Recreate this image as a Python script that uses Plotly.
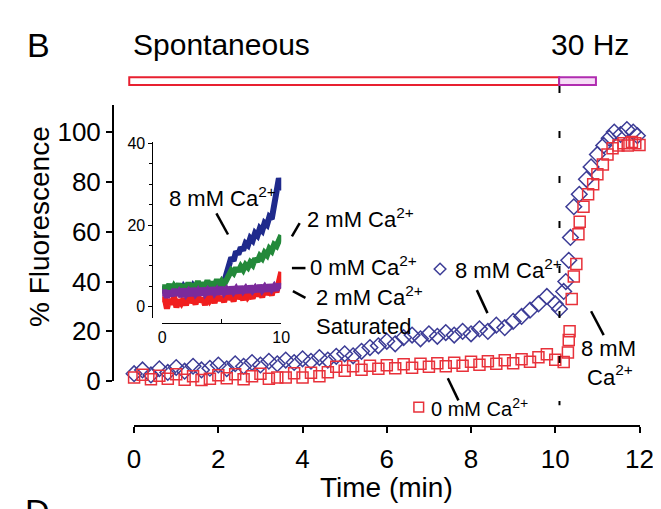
import plotly.graph_objects as go

# ---------------- data ----------------
# main panel: 0 mM Ca2+ (red squares)
red_t = [0.0, 0.2, 0.4, 0.6, 0.8, 1.0, 1.2, 1.4, 1.6, 1.8, 2.0, 2.2, 2.4, 2.6, 2.8,
         3.0, 3.2, 3.4, 3.6, 3.8, 4.0, 4.2, 4.4, 4.6, 4.8, 5.0, 5.2, 5.4, 5.6, 5.8,
         6.0, 6.2, 6.4, 6.6, 6.8, 7.0, 7.2, 7.4, 7.6, 7.8, 8.0, 8.2, 8.4, 8.6, 8.8,
         9.0, 9.2, 9.4, 9.6, 9.8, 10.0,
         10.2, 10.3, 10.32, 10.34, 10.39, 10.44, 10.5, 10.55, 10.58, 10.67, 10.78,
         10.9, 11.0, 11.13, 11.24, 11.36, 11.5, 11.62, 11.72, 11.82, 11.9, 12.0, 12.18]
red_v = [1.5, 2.6, 0.8, 2.2, 1.0, 2.8, 0.6, 2.0, 0.5, 1.0, 2.4, 1.2, 2.8, 0.8, 2.0,
         3.0, 1.0, 1.5, 1.5, 3.2, 1.5, 3.4, 2.0, 3.6, 5.8, 4.2, 6.0, 4.6, 6.2, 5.0,
         6.4, 5.2, 6.8, 5.4, 7.0, 5.8, 7.2, 6.0, 7.4, 6.2, 7.8, 6.6, 8.0, 7.0, 8.4,
         7.2, 8.8, 7.8, 9.6, 10.8, 8.6,
         7.7, 11.5, 16.5, 20.0, 33.0, 42.0, 47.0, 59.0, 64.0, 70.0, 75.0,
         79.0, 83.0, 87.0, 91.0, 93.5, 94.6, 95.5, 94.6, 96.0, 95.5, 94.8, 93.5]

# main panel: 8 mM Ca2+ (blue diamonds)
blue_t = [0.0, 0.2, 0.4, 0.6, 0.8, 1.0, 1.2, 1.4, 1.6, 1.8, 2.0, 2.2, 2.4, 2.6, 2.8,
          3.0, 3.2, 3.4, 3.6, 3.8, 4.0, 4.2, 4.4, 4.6, 4.8, 5.0, 5.2, 5.4, 5.6, 5.8,
          6.0, 6.2, 6.4, 6.6, 6.8, 7.0, 7.2, 7.4, 7.6, 7.8, 8.0, 8.2, 8.4, 8.6, 8.8,
          9.0, 9.2, 9.4, 9.6, 9.8, 10.0,
          10.1, 10.2, 10.25, 10.32, 10.36, 10.44, 10.57, 10.74, 10.85, 11.0, 11.15,
          11.28, 11.4, 11.55, 11.7, 11.85, 11.95]
blue_v = [3.0, 4.5, 2.5, 5.0, 3.5, 5.5, 4.0, 6.0, 4.5, 5.2, 6.5, 5.0, 7.0, 6.0, 7.5,
          6.5, 8.0, 7.0, 8.5, 7.5, 9.0, 8.0, 9.5, 8.5, 10.0, 11.0, 10.2, 12.0, 13.5, 14.2,
          16.0, 15.0, 17.5, 18.5, 17.0, 19.0, 18.0, 19.5, 18.5, 20.0, 19.0, 21.0, 20.0, 22.5, 21.5,
          24.0, 26.0, 28.5, 31.0, 34.0, 31.0,
          29.0, 36.0, 40.0, 48.5, 57.7, 70.0, 75.0, 81.0, 86.0, 91.0, 94.6,
          97.5, 100.0, 99.0, 101.0, 100.0, 98.5]

# inset traces
inset_t = [0.0, 0.2, 0.4, 0.6, 0.8, 1.0, 1.2, 1.4, 1.6, 1.8, 2.0, 2.2, 2.4, 2.6, 2.8,
           3.0, 3.2, 3.4, 3.6, 3.8, 4.0, 4.2, 4.4, 4.6, 4.8, 5.0, 5.2, 5.4, 5.6, 5.8,
           6.0, 6.2, 6.4, 6.6, 6.8, 7.0, 7.2, 7.4, 7.6, 7.8, 8.0, 8.2, 8.4, 8.6, 8.8,
           9.0, 9.2, 9.4, 9.6, 9.8, 10.0]
inset_blue = [3.2, 4.8, 3.6, 5.0, 3.5, 4.6, 3.9, 5.2, 3.7, 4.9, 4.1, 5.4, 3.9, 5.1, 4.3,
              5.8, 4.2, 5.4, 4.5, 6.0, 4.4, 5.6, 4.7, 6.2, 4.9, 5.6, 6.0,
              8.0, 10.5, 12.0, 11.2, 13.5, 12.8, 14.5, 13.8, 15.5, 15.0, 16.8, 16.2, 18.0,
              17.4, 19.2, 18.6, 20.5, 20.0, 22.0, 21.5, 24.5, 27.0, 31.5, 28.5]
inset_green = [3.5, 5.2, 4.0, 5.5, 3.8, 5.0, 4.2, 5.6, 4.0, 5.3, 4.4, 5.8, 4.2, 5.5, 4.6,
               6.2, 4.5, 5.8, 4.8, 6.4, 4.7, 6.0, 5.0, 6.6, 5.2,
               6.2, 5.4, 6.8, 8.0, 8.8, 8.2, 9.5, 8.6, 9.8, 9.0, 10.2, 9.6, 10.8, 10.2, 11.8,
               11.0, 12.4, 11.8, 13.2, 12.6, 14.2, 13.6, 15.2, 14.8, 16.8, 17.5]
inset_red = [1.0, 2.2, -0.5, 1.8, 0.5, 2.4, -0.2, 1.6, 0.8, 2.0, 0.3, 2.5, 1.0, 1.8, 0.6,
             2.7, 1.2, 2.0, 0.4, 2.6, 1.4, 2.2, 0.9, 3.0, 1.5, 2.4, 1.1, 3.2, 1.8, 2.6,
             1.3, 3.4, 2.0, 2.8, 1.6, 3.7, 2.3, 3.0, 2.0, 4.0, 2.6, 3.5, 2.3, 4.4, 3.0,
             3.8, 2.8, 5.0, 3.5, 6.5, 8.5]
inset_purple = [2.5, 4.0, 2.2, 3.8, 2.6, 4.2, 2.8, 3.6, 2.4, 4.3, 3.0, 3.8, 2.7, 4.4, 3.1,
                3.9, 2.8, 4.5, 3.2, 4.0, 3.0, 4.6, 3.3, 4.1, 3.1, 4.7, 3.4, 4.2, 3.2, 4.8,
                3.6, 4.4, 3.3, 4.9, 3.8, 4.5, 3.5, 5.0, 3.9, 4.6, 3.7, 5.2, 4.0, 4.8, 3.8,
                5.3, 4.2, 5.0, 4.0, 5.5, 4.4]

main_xticks = [0, 2, 4, 6, 8, 10, 12]
main_yticks = [0, 20, 40, 60, 80, 100]
inset_xticks = [0, 5, 10]
inset_xtext = ["0", "", "10"]
inset_yticks = [0, 20, 40]

# ---------------- layout helpers ----------------
W, H = 661, 509
def px(x):
    return x / W
def py(y):
    return 1 - y / H

FONT = "Liberation Sans, Arial, Helvetica, sans-serif"
RED = "#e8313a"
BLUE = "#3c3c96"

fig = go.Figure()

# inset traces (drawn first)
for vals, col in [(inset_blue, "#1f2a8c"), (inset_green, "#23893a"),
                  (inset_red, "#f01e1e"), (inset_purple, "#7b2a9b")]:
    fig.add_trace(go.Scatter(x=inset_t, y=vals, mode="lines", xaxis="x2", yaxis="y2",
                             line=dict(color=col, width=6), showlegend=False))

# main traces
fig.add_trace(go.Scatter(x=blue_t, y=blue_v, mode="markers", cliponaxis=False,
                         marker=dict(symbol="diamond-open", size=12, color=BLUE,
                                     line=dict(width=1.5, color=BLUE)),
                         showlegend=False))
fig.add_trace(go.Scatter(x=red_t, y=red_v, mode="markers", cliponaxis=False,
                         marker=dict(symbol="square-open", size=11, color=RED,
                                     line=dict(width=1.5, color=RED)),
                         showlegend=False))

shapes = []
# stimulus bars
shapes.append(dict(type="rect", xref="paper", yref="paper",
                   x0=px(118), x1=px(562), y0=py(74), y1=py(66),
                   line=dict(color="#e82030", width=2), fillcolor="white"))
shapes.append(dict(type="rect", xref="paper", yref="paper",
                   x0=px(562), x1=px(600), y0=py(74), y1=py(66),
                   line=dict(color="#b02cb0", width=2), fillcolor="#f6dcf6"))
# dashed stimulus-onset line
shapes.append(dict(type="line", xref="x", yref="paper", x0=10.1, x1=10.1,
                   y0=py(75), y1=py(408),
                   line=dict(color="black", width=2, dash="7px,38px")))
# pointer lines
for (x0, y0, x1, y1) in [(208, 208, 220, 230), (286, 232, 294, 218), (286, 265, 300, 265),
                         (287, 289, 300, 296), (477, 288, 488, 312), (595, 310, 608, 335),
                         (447, 380, 458, 403)]:
    shapes.append(dict(type="line", xref="paper", yref="paper",
                       x0=px(x0), y0=py(y0), x1=px(x1), y1=py(y1),
                       line=dict(color="black", width=2.5)))
# legend keys: diamond and square
dx, dy, r = 439, 266, 6
shapes.append(dict(type="path", xref="paper", yref="paper",
                   path=f"M {px(dx-r)} {py(dy)} L {px(dx)} {py(dy-r)} L {px(dx+r)} {py(dy)} L {px(dx)} {py(dy+r)} Z",
                   line=dict(color=BLUE, width=1.5)))
shapes.append(dict(type="rect", xref="paper", yref="paper",
                   x0=px(412), x1=px(422), y0=py(415), y1=py(405),
                   line=dict(color=RED, width=1.5)))

ann = []
def label(x, y, text, size=22, xanchor="left", yanchor="middle", angle=0, align="left"):
    ann.append(dict(x=px(x), y=py(y), xref="paper", yref="paper", text=text,
                    showarrow=False, xanchor=xanchor, yanchor=yanchor, textangle=angle,
                    align=align, font=dict(family=FONT, size=size, color="black")))

CA = "Ca<sup>2+</sup>"
label(157, 191, "8 mM " + CA)
label(299, 213, "2 mM " + CA)
label(303, 263, "0 mM " + CA)
label(309, 309, "2 mM " + CA + "<br>Saturated")
label(452, 266, "8 mM " + CA)
label(582, 364, "8 mM<br> " + CA)
label(428, 410, "0 mM " + CA, size=20)
label(120, 32, "Spontaneous", size=30)
label(552, 32, "30 Hz", size=30)
label(10, 32, "B", size=34)
label(8, 497, "D", size=34, yanchor="top")
label(26, 222, "% Fluorescence", size=28, xanchor="center", angle=-90, align="center")
label(384, 494, "Time (min)", size=28, xanchor="center", align="center")

fig.update_layout(
    width=W, height=H,
    margin=dict(l=0, r=0, t=0, b=0),
    paper_bgcolor="white", plot_bgcolor="rgba(0,0,0,0)",
    font=dict(family=FONT, color="black"),
    shapes=shapes, annotations=ann,
    xaxis=dict(domain=[px(123), px(645)], range=[0, 12], anchor="free", position=py(430),
               showline=True, linecolor="black", linewidth=1.5, ticks="outside",
               ticklen=6, tickwidth=1.5, tickcolor="black", tickvals=main_xticks,
               ticklabelstandoff=4,
               tickfont=dict(size=26, family=FONT), showgrid=False, zeroline=False),
    yaxis=dict(domain=[py(383), py(95)], range=[0, 110.8], anchor="free", position=px(101),
               showline=True, linecolor="black", linewidth=1.5, ticks="outside",
               ticklen=6, tickwidth=1.5, tickcolor="black", tickvals=main_yticks,
               tickfont=dict(size=26, family=FONT), showgrid=False, zeroline=False),
    xaxis2=dict(domain=[px(152), px(275)], range=[0, 10], anchor="free", position=py(322),
                showline=True, linecolor="black", linewidth=1.2, ticks="inside",
                ticklen=4, tickwidth=1.2, tickcolor="black", tickvals=inset_xticks,
                ticktext=inset_xtext, tickfont=dict(size=16, family=FONT),
                showgrid=False, zeroline=False),
    yaxis2=dict(domain=[py(317), py(133)], range=[-2.8, 40.5], anchor="free", position=px(142),
                showline=True, linecolor="black", linewidth=1.2, ticks="outside",
                ticklen=4, tickwidth=1.2, tickcolor="black", tickvals=inset_yticks,
                tickfont=dict(size=16, family=FONT), showgrid=False, zeroline=False,
                minor=dict(dtick=5, tick0=0, ticks="outside", ticklen=3, tickcolor="black")),
)

fig.write_html("out.html")
